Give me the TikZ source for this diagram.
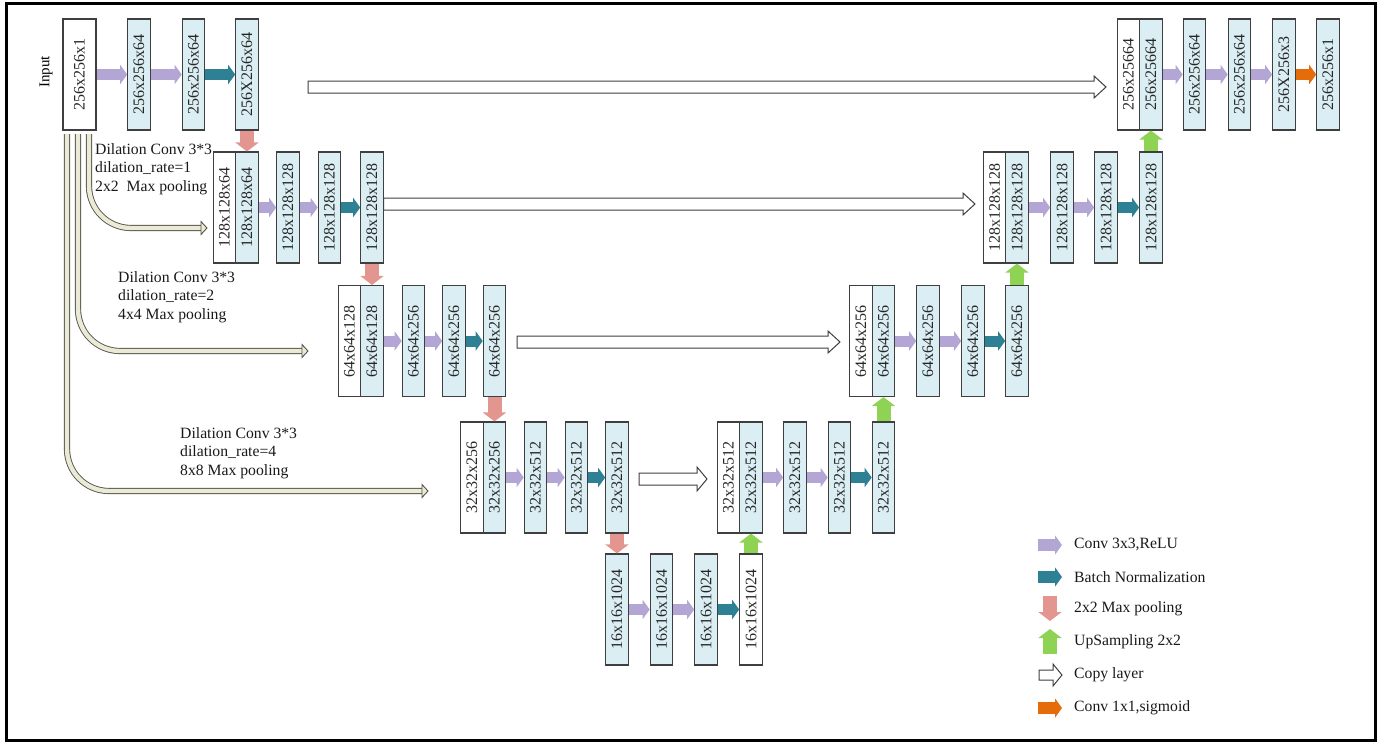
\documentclass[tikz,border=0pt]{standalone}
\usepackage{fontspec}
\setmainfont{Liberation Serif}
\usepackage{graphicx}
\usetikzlibrary{arrows.meta,calc}
\definecolor{boxblue}{HTML}{DAEEF3}
\definecolor{edgec}{HTML}{3F3F3F}
\definecolor{convc}{HTML}{B4A6D4}
\definecolor{bnc}{HTML}{2E8095}
\definecolor{poolc}{HTML}{E3958F}
\definecolor{upc}{HTML}{8ED354}
\definecolor{sigc}{HTML}{E46C0A}
\definecolor{tubefill}{HTML}{EAEAD6}
\definecolor{tubeedge}{HTML}{55554A}
\newcommand\rl[1]{\rotatebox{90}{#1}}
\newcommand\copyarr[5]{\draw[copyline] ($(#1)+(0,-#3)$) -- ($(#2)+(-#5,-#3)$) -- ($(#2)+(-#5,-#4)$) -- (#2) -- ($(#2)+(-#5,#4)$) -- ($(#2)+(-#5,#3)$) -- ($(#1)+(0,#3)$) -- cycle;}
\newcommand\tubearr[2]{\draw[tube] (#1) |- ($(#2)+(-5,0)$); \draw[tubehead] ($(#2)+(-6,-6.5)$) -- (#2) -- ($(#2)+(-6,6.5)$) -- cycle;}
\tikzset{
 lay/.style={draw=edgec, line width=1.1pt, minimum width=22.5pt, minimum height=111pt, inner sep=0pt, font=\fontsize{16}{16}\selectfont, text=black!85},
 bl/.style={lay, fill=boxblue},
 wh/.style={lay, fill=white},
 harr/.style={line width=11pt, -{Triangle[length=7pt,width=19pt]}},
 conv/.style={harr, draw=convc},
 bn/.style={harr, draw=bnc},
 sig/.style={harr, draw=sigc},
 varr/.style={line width=14pt, -{Triangle[length=9pt,width=23pt]}},
 pool/.style={varr, draw=poolc},
 up/.style={varr, draw=upc},
 copyline/.style={draw=edgec, line width=1pt, fill=white},
 tube/.style={draw=tubeedge, line width=0.9pt, double=tubefill, double distance=4.4pt, rounded corners=42pt},
 tubehead/.style={draw=tubeedge, line width=0.9pt, fill=tubefill},
 note/.style={font=\fontsize{15.7}{18.5}\selectfont, align=left, anchor=north west, inner sep=0pt, text=black!90},
 legtext/.style={font=\fontsize{15.7}{15.7}\selectfont, anchor=west, inner sep=0pt, text=black!90},
}
\begin{document}
\begin{tikzpicture}[x=1pt,y=-1pt]
\useasboundingbox (0,0) rectangle (1392,742);
\draw[line width=3pt] (6,3) rectangle (1375,740);

% ---------- level 1 ----------
\node[font=\fontsize{15}{15}\selectfont] (inlbl) at (46,72) {\rl{Input}};
\node[wh, minimum width=33pt] (in) at (79.5,74.5) {\rl{256x256x1}};
\node[bl] (e12) at (139,74.5) {\rl{256x256x64}};
\node[bl] (e13) at (193.5,74.5) {\rl{256x256x64}};
\node[bl] (e14) at (247,74.5) {\rl{256X256x64}};
\node[wh] (d11w) at (1128.5,74.5) {\rl{256x25664}};
\node[bl] (d11) at (1151,74.5) {\rl{256x25664}};
\node[bl] (d12) at (1194.5,74.5) {\rl{256x256x64}};
\node[bl] (d13) at (1239.5,74.5) {\rl{256x256x64}};
\node[bl] (d14) at (1284,74.5) {\rl{256X256x3}};
\node[bl] (d15) at (1328,74.5) {\rl{256x256x1}};

% ---------- level 2 ----------
\node[wh] (e21w) at (224.5,207.5) {\rl{128x128x64}};
\node[bl] (e21) at (247,207.5) {\rl{128x128x64}};
\node[bl] (e22) at (288,207.5) {\rl{128x128x128}};
\node[bl] (e23) at (329.5,207.5) {\rl{128x128x128}};
\node[bl] (e24) at (372,207.5) {\rl{128x128x128}};
\node[wh] (d21w) at (994.5,207.5) {\rl{128x128x128}};
\node[bl] (d21) at (1017,207.5) {\rl{128x128x128}};
\node[bl] (d22) at (1062,207.5) {\rl{128x128x128}};
\node[bl] (d23) at (1106,207.5) {\rl{128x128x128}};
\node[bl] (d24) at (1151,207.5) {\rl{128x128x128}};

% ---------- level 3 ----------
\node[wh] (e31w) at (349.5,341) {\rl{64x64x128}};
\node[bl] (e31) at (372,341) {\rl{64x64x128}};
\node[bl] (e32) at (413.5,341) {\rl{64x64x256}};
\node[bl] (e33) at (454,341) {\rl{64x64x256}};
\node[bl] (e34) at (494.5,341) {\rl{64x64x256}};
\node[wh] (d31w) at (861,341) {\rl{64x64x256}};
\node[bl] (d31) at (883.5,341) {\rl{64x64x256}};
\node[bl] (d32) at (928,341) {\rl{64x64x256}};
\node[bl] (d33) at (973,341) {\rl{64x64x256}};
\node[bl] (d34) at (1017,341) {\rl{64x64x256}};

% ---------- level 4 ----------
\node[wh] (e41w) at (472,477.5) {\rl{32x32x256}};
\node[bl] (e41) at (494.5,477.5) {\rl{32x32x256}};
\node[bl] (e42) at (535.5,477.5) {\rl{32x32x512}};
\node[bl] (e43) at (576.5,477.5) {\rl{32x32x512}};
\node[bl] (e44) at (617,477.5) {\rl{32x32x512}};
\node[wh] (d41w) at (728.5,477.5) {\rl{32x32x512}};
\node[bl] (d41) at (751,477.5) {\rl{32x32x512}};
\node[bl] (d42) at (795,477.5) {\rl{32x32x512}};
\node[bl] (d43) at (839.5,477.5) {\rl{32x32x512}};
\node[bl] (d44) at (883.5,477.5) {\rl{32x32x512}};

% ---------- level 5 ----------
\node[bl] (m1) at (617,609.5) {\rl{16x16x1024}};
\node[bl] (m2) at (661.5,609.5) {\rl{16x16x1024}};
\node[bl] (m3) at (706,609.5) {\rl{16x16x1024}};
\node[wh] (m4) at (751,609.5) {\rl{16x16x1024}};

% ---------- horizontal arrows ----------
\draw[conv] (in.east) -- (e12.west);
\draw[conv] (e12.east) -- (e13.west);
\draw[bn] (e13.east) -- (e14.west);
\draw[conv] (d11.east) -- (d12.west);
\draw[conv] (d12.east) -- (d13.west);
\draw[conv] (d13.east) -- (d14.west);
\draw[sig] (d14.east) -- (d15.west);

\draw[conv] (e21.east) -- (e22.west);
\draw[conv] (e22.east) -- (e23.west);
\draw[bn] (e23.east) -- (e24.west);
\draw[conv] (d21.east) -- (d22.west);
\draw[conv] (d22.east) -- (d23.west);
\draw[bn] (d23.east) -- (d24.west);

\draw[conv] (e31.east) -- (e32.west);
\draw[conv] (e32.east) -- (e33.west);
\draw[bn] (e33.east) -- (e34.west);
\draw[conv] (d31.east) -- (d32.west);
\draw[conv] (d32.east) -- (d33.west);
\draw[bn] (d33.east) -- (d34.west);

\draw[conv] (e41.east) -- (e42.west);
\draw[conv] (e42.east) -- (e43.west);
\draw[bn] (e43.east) -- (e44.west);
\draw[conv] (d41.east) -- (d42.west);
\draw[conv] (d42.east) -- (d43.west);
\draw[bn] (d43.east) -- (d44.west);

\draw[conv] (m1.east) -- (m2.west);
\draw[conv] (m2.east) -- (m3.west);
\draw[bn] (m3.east) -- (m4.west);

% ---------- vertical arrows ----------
\draw[pool] (e14.south) -- (e21.north);
\draw[pool] (e24.south) -- (e31.north);
\draw[pool] (e34.south) -- (e41.north);
\draw[pool] (e44.south) -- (m1.north);
\draw[up] (m4.north) -- (d41.south);
\draw[up] (d44.north) -- (d31.south);
\draw[up] (d34.north) -- (d21.south);
\draw[up] (d24.north) -- (d11.south);

% ---------- copy arrows ----------
\coordinate (c1s) at (308,87);  \coordinate (c1e) at (1106,87);
\coordinate (c2s) at (383.5,204); \coordinate (c2e) at (975,204);
\coordinate (c3s) at (517,342); \coordinate (c3e) at (840,342);
\coordinate (c4s) at (639,479); \coordinate (c4e) at (707,479);
\copyarr{c1s}{c1e}{6}{11}{12}
\copyarr{c2s}{c2e}{6}{11}{12}
\copyarr{c3s}{c3e}{6}{11}{12}
\copyarr{c4s}{c4e}{6}{12}{10}

% ---------- dilation tubes ----------
\coordinate (t1s) at (67,134);  \coordinate (t1e) at (428,491);
\coordinate (t2s) at (78,134);  \coordinate (t2e) at (308,351);
\coordinate (t3s) at (89,134);  \coordinate (t3e) at (207,228);
\tubearr{t1s}{t1e}
\tubearr{t2s}{t2e}
\tubearr{t3s}{t3e}

\node[note] (n1) at (95,143) {Dilation Conv 3*3\\dilation\_rate=1\\2x2~ Max pooling};
\node[note] (n2) at (118,271) {Dilation Conv 3*3\\dilation\_rate=2\\4x4 Max pooling};
\node[note] (n3) at (180,427) {Dilation Conv 3*3\\dilation\_rate=4\\8x8 Max pooling};

% ---------- legend ----------
\coordinate (lg1a) at (1038,545); \coordinate (lg1b) at (1062,545);
\coordinate (lg2a) at (1038,577); \coordinate (lg2b) at (1062,577);
\coordinate (lg3a) at (1050,596); \coordinate (lg3b) at (1050,621);
\coordinate (lg4a) at (1050,654); \coordinate (lg4b) at (1050,629);
\coordinate (lg5a) at (1039,675); \coordinate (lg5b) at (1062,675);
\coordinate (lg6a) at (1038,708); \coordinate (lg6b) at (1062,708);
\draw[conv, line width=12pt] (lg1a) -- (lg1b);
\draw[bn, line width=12pt] (lg2a) -- (lg2b);
\draw[pool] (lg3a) -- (lg3b);
\draw[up] (lg4a) -- (lg4b);
\copyarr{lg5a}{lg5b}{5}{11}{9}
\draw[sig, line width=12pt] (lg6a) -- (lg6b);
\node[legtext] (l1) at (1074,545) {Conv 3x3,ReLU};
\node[legtext] (l2) at (1074,577) {Batch Normalization};
\node[legtext] (l3) at (1074,609) {2x2 Max pooling};
\node[legtext] (l4) at (1074,642) {UpSampling 2x2};
\node[legtext] (l5) at (1074,675) {Copy layer};
\node[legtext] (l6) at (1074,708) {Conv 1x1,sigmoid};
\end{tikzpicture}
\end{document}
